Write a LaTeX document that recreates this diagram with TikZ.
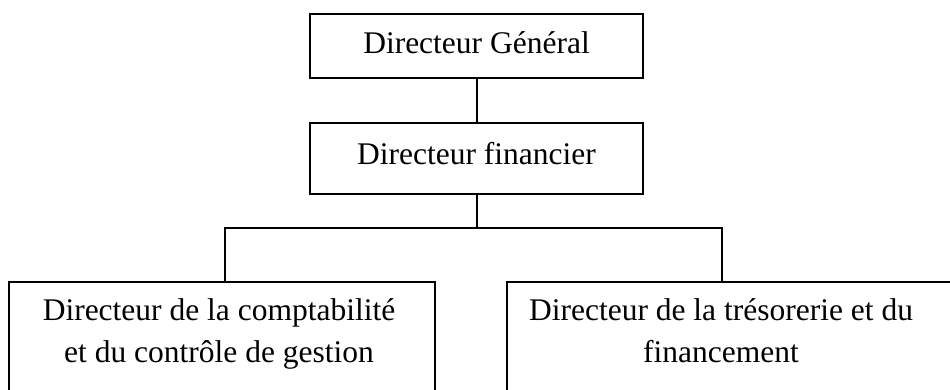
\documentclass[tikz,border=0pt]{standalone}
\usepackage{fontspec}
\setmainfont{Liberation Serif}
\begin{document}
\begin{tikzpicture}[x=1pt,y=-1pt,
  box/.style={draw,line width=1.9pt,inner sep=0pt},
  txt/.style={inner sep=0pt,anchor=base,font=\fontsize{31.5}{42}\selectfont},
  conn/.style={line width=2pt}]
\clip (0,0) rectangle (950,389);
\fill[white] (0,0) rectangle (950,389);
\node[box,minimum width=333pt,minimum height=64pt] (top) at (476.5,46) {};
\node[txt] (toptxt) at (476.5,53) {Directeur Général};
\node[box,minimum width=333pt,minimum height=71pt] (mid) at (476.5,158.5) {};
\node[txt] (midtxt) at (476.5,164) {Directeur financier};
\node[box,minimum width=426pt,minimum height=160pt] (left) at (222,362) {};
\node[box,minimum width=460pt,minimum height=160pt] (right) at (737,362) {};
\node[txt] (l1) at (219,320) {Directeur de la comptabilité};
\node[txt] (l2) at (219,362) {et du contrôle de gestion};
\node[txt] (r1) at (721,320) {Directeur de la trésorerie et du};
\node[txt] (r2) at (721,362) {financement};
\coordinate (jl) at (225,228);
\coordinate (jr) at (722,228);
\draw[conn] (top.south) -- (mid.north);
\draw[conn] (mid.south) -- (mid.south |- jl);
\draw[conn] (jl |- left.north) -- (jl) -- (jr) -- (jr |- right.north);
\end{tikzpicture}
\end{document}
